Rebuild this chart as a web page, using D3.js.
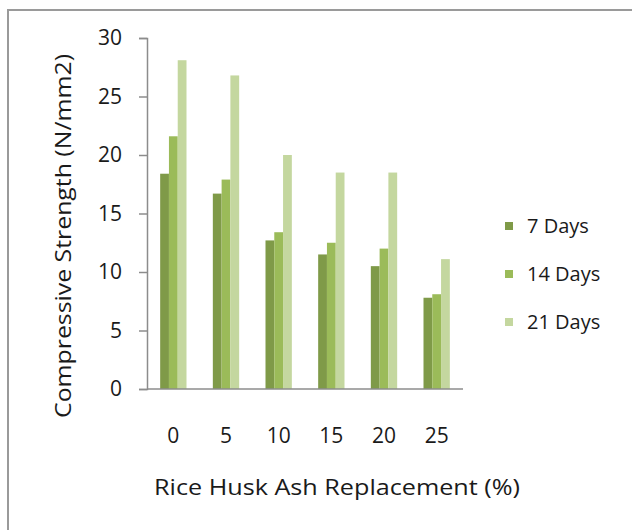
<!DOCTYPE html>
<html><head><meta charset="utf-8">
<script src="https://cdn.jsdelivr.net/npm/d3@7"></script>
<style>body{margin:0;background:#fff}svg{display:block}text{font-family:"Open Sans",sans-serif;fill:#1a1a1a}</style>
</head><body>
<script>
const categories = ["0","5","10","15","20","25"];
const seriesNames = ["7 Days","14 Days","21 Days"];
const days7  = [18.4,16.7,12.7,11.5,10.5,7.8];
const days14 = [21.6,17.9,13.4,12.5,12.0,8.1];
const days21 = [28.1,26.8,20.0,18.5,18.5,11.1];
const yTicks = [0,5,10,15,20,25,30];
const colors = ["#7f9a48","#9bbb59","#c4d79f"];
const series = [days7, days14, days21];

const W = 632, H = 530;
const svg = d3.select("body").append("svg").attr("width",W).attr("height",H);
svg.append("rect").attr("x",8).attr("y",10).attr("width",W).attr("height",H)
  .attr("fill","#fff").attr("stroke","#9a9a9a").attr("stroke-width",2);

const x0 = 147, x1 = 463, yTop = 38, yBot = 389;
const x = d3.scaleBand().domain(categories).range([x0,x1]).paddingInner(0.5).paddingOuter(0.25);
const xs = d3.scaleBand().domain(seriesNames).range([0,x.bandwidth()]);
const y = d3.scaleLinear().domain([0,30]).range([yBot,yTop]);

const g = svg.append("g");
seriesNames.forEach((s,si)=>{
  g.selectAll(null).data(series[si]).enter().append("rect")
    .attr("x",(d,i)=>x(categories[i])+xs(s))
    .attr("width",xs.bandwidth())
    .attr("y",d=>y(d)).attr("height",d=>yBot-y(d))
    .attr("fill",colors[si]);
});

// y axis
const ya = svg.append("g").attr("transform",`translate(${x0},0)`)
  .call(d3.axisLeft(y).tickValues(yTicks).tickSize(8).tickPadding(17));
ya.select(".domain").attr("stroke","#8c8c8c").attr("stroke-width",1.5);
ya.selectAll(".tick line").attr("stroke","#8c8c8c").attr("stroke-width",1.5);
ya.selectAll("text").style("font-size","21px").attr("fill","#1a1a1a");

// x axis
const xa = svg.append("g").attr("transform",`translate(0,${yBot})`)
  .call(d3.axisBottom(x).tickSize(0).tickPadding(39));
xa.select(".domain").attr("stroke","#8c8c8c").attr("stroke-width",1.5).attr("d",`M${x0},0H${x1}`);
xa.selectAll("text").style("font-size","21px").attr("fill","#1a1a1a");

svg.append("text").attr("x",337).attr("y",495).attr("text-anchor","middle")
  .attr("textLength",366).attr("lengthAdjust","spacingAndGlyphs")
  .style("font-size","22px").text("Rice Husk Ash Replacement (%)");
svg.append("text").attr("transform","translate(71,236) rotate(-90)").attr("text-anchor","middle")
  .attr("textLength",364).attr("lengthAdjust","spacingAndGlyphs")
  .style("font-size","22px").text("Compressive Strength (N/mm2)");

// legend
const lg = svg.append("g");
seriesNames.forEach((s,i)=>{
  const cy = 226 + i*48;
  lg.append("rect").attr("x",505).attr("y",cy-4).attr("width",8).attr("height",8).attr("fill",colors[i]);
  lg.append("text").attr("x",527).attr("y",cy).attr("dy","0.36em").style("font-size","20px").text(s);
});
</script>
</body></html>
